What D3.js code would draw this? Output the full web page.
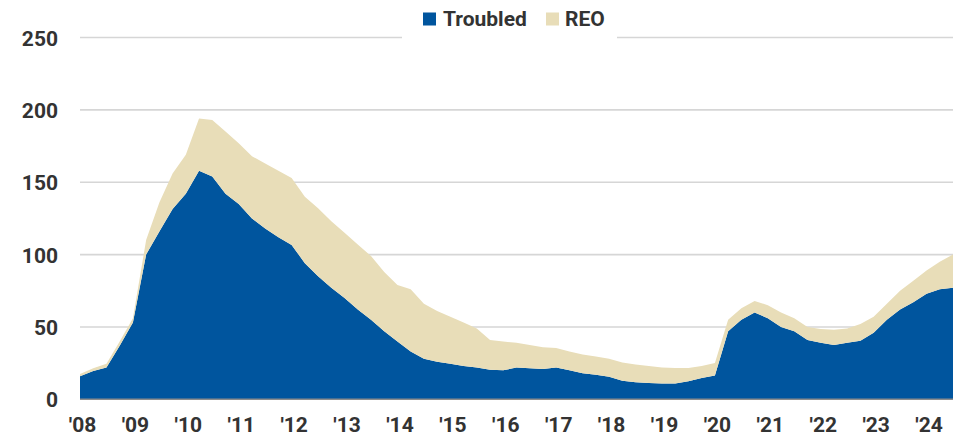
<!DOCTYPE html>
<html>
<head>
<meta charset="utf-8">
<script src="https://cdn.jsdelivr.net/npm/d3@7"></script>
<style>
  html, body { margin: 0; padding: 0; background: #fff; }
  svg { display: block; }
  text { font-family: Roboto, "Noto Sans", sans-serif; }
</style>
</head>
<body>
<svg id="chart" width="953" height="438"></svg>
<script>
// Quarterly observations, 2008 Q1 through mid-2024 (billions)
const startYear = 2008;
const quarterStep = 0.25;
const troubled = [16, 19.5, 22, 37, 53, 100, 116, 131.5, 142, 158, 154, 142, 135, 125, 118, 112,
  106.7, 94, 85, 77, 70, 62, 55, 47, 40, 33, 28, 26, 24.5, 23, 22, 20.5,
  20, 22, 21.5, 21, 22, 20, 18, 17, 15.5, 12.8, 11.8, 11.3, 11, 11, 12.5, 14.7,
  16.5, 47, 55, 60, 56, 50, 47, 41, 39, 37.5, 39, 40.5, 46, 55, 62, 67, 73, 76, 77];
const total = [17.5, 21.5, 24.5, 40, 56, 110, 136, 156, 169, 194, 193, 185, 177, 168, 163, 158,
  153, 140, 132, 123, 115, 107, 99, 88, 79, 76, 66, 61, 57, 53, 49, 41,
  40, 39, 37.5, 36, 35.5, 33, 31, 29.5, 28, 25.5, 24, 23, 22, 21.6, 21.6, 23,
  25, 55, 63, 68, 65, 60, 56, 50, 48.5, 48, 49, 52, 57, 66, 75, 82, 89, 95, 100];
const reo = total.map((t, i) => +(t - troubled[i]).toFixed(1));
const yTicks = [0, 50, 100, 150, 200, 250];
const xTickYears = d3.range(2008, 2025);
const xTickLabels = xTickYears.map(y => "'" + String(y).slice(2));
const seriesNames = ["Troubled", "REO"];
const colors = { Troubled: "#00559e", REO: "#e8ddb8" };

const rows = troubled.map((t, i) => ({ t: startYear + i * quarterStep, Troubled: t, REO: reo[i] }));

const svg = d3.select("#chart");
const plotLeft = 80, plotRight = 953, plotTop = 37.5, plotBottom = 399.3;

const x = d3.scaleLinear()
  .domain([startYear, startYear + (troubled.length - 1) * quarterStep])
  .range([plotLeft, plotRight]);
const y = d3.scaleLinear().domain([0, 250]).range([plotBottom, plotTop]);

// gridlines
svg.append("g").selectAll("line").data(yTicks.filter(d => d > 0)).join("line")
  .attr("x1", plotLeft).attr("x2", plotRight)
  .attr("y1", d => y(d)).attr("y2", d => y(d))
  .attr("stroke", "#d6d6d6").attr("stroke-width", 1.6);

// stacked areas
const stack = d3.stack().keys(seriesNames);
const layers = stack(rows);
const area = d3.area()
  .x(d => x(d.data.t))
  .y0(d => y(d[0]))
  .y1(d => y(d[1]));
svg.append("g").selectAll("path").data(layers).join("path")
  .attr("d", area)
  .attr("fill", d => colors[d.key]);

// baseline
svg.append("line")
  .attr("x1", plotLeft).attr("x2", plotRight)
  .attr("y1", y(0)).attr("y2", y(0))
  .attr("stroke", "#8c8c8c").attr("stroke-width", 1.6);

// y axis labels
const yAxis = d3.axisLeft(y).tickValues(yTicks).tickSize(0).tickPadding(0);
const gy = svg.append("g").attr("transform", "translate(58,0)").call(yAxis);
gy.select(".domain").remove();
gy.selectAll("text")
  .attr("font-family", "Roboto, sans-serif")
  .attr("font-size", 21).attr("font-weight", 700)
  .attr("fill", "#333").attr("dy", "0.36em");

// x axis labels
const xAxis = d3.axisBottom(x).tickValues(xTickYears)
  .tickFormat((d, i) => xTickLabels[i]).tickSize(0).tickPadding(0);
const gx = svg.append("g").attr("transform", "translate(2,417)").call(xAxis);
gx.select(".domain").remove();
gx.selectAll("text")
  .attr("font-family", "Roboto, sans-serif")
  .attr("font-size", 21).attr("font-weight", 700)
  .attr("fill", "#333").attr("dy", "0.71em");

// legend
const lg = svg.append("g");
lg.append("rect").attr("x", 402).attr("y", 0).attr("width", 215).attr("height", 41).attr("fill", "#fff");
const legendItems = [
  { key: "Troubled", sx: 423, tx: 443 },
  { key: "REO", sx: 546, tx: 565 }
];
legendItems.forEach(it => {
  lg.append("rect").attr("x", it.sx).attr("y", 12.5).attr("width", 13).attr("height", 13)
    .attr("fill", colors[it.key]);
  lg.append("text").attr("x", it.tx).attr("y", 26)
    .attr("font-size", 21).attr("font-weight", 700).attr("fill", "#333")
    .text(it.key);
});
</script>
</body>
</html>
